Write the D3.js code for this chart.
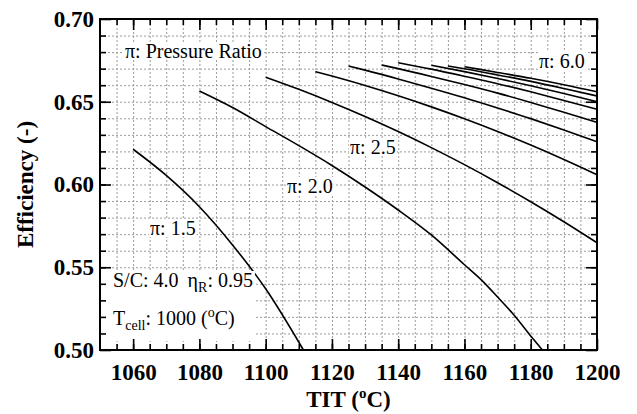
<!DOCTYPE html>
<html lang="en">
<head>
<meta charset="UTF-8">
<title>Efficiency vs TIT</title>
<script src="https://d3js.org/d3.v7.min.js"></script>
<style>
    body { margin: 0; background: white; }
    text { font-family: "Liberation Serif", "Times New Roman", Times, "DejaVu Serif", serif; fill: black; }
    .tick text { font-size: 23px; font-weight: bold; font-family: "Liberation Serif", "Times New Roman", Times, "DejaVu Serif", serif; }
    .axis-title { font-size: 23px; font-weight: bold; }
    .note { font-size: 20px; }
    .grid line { stroke: #9a9a9a; stroke-width: 1; stroke-dasharray: 2,2; }
    .grid .domain { display: none; }
    .curve { fill: none; stroke: black; stroke-width: 1.6; }
</style>
</head>
<body>
<svg id="chart"></svg>
<script>
    // pressure ratio curves, [TIT degC, efficiency]
    var pressureRatios = [1.5, 2.0, 2.5, 3.0, 3.5, 4.0, 4.5, 5.0, 5.5, 6.0];
    var effPi15 = [[1060,0.6213],[1070,0.6055],[1080,0.5866],[1090,0.5635],[1100,0.537],[1111.4,0.50]];
    var effPi20 = [[1080,0.6565],[1090,0.6465],[1100,0.635],[1110,0.6235],[1120,0.6115],[1130,0.5985],[1140,0.5846],[1150,0.5695],[1160,0.5515],[1165,0.5425],[1170,0.532],[1175,0.521],[1180,0.5085],[1183.5,0.50]];
    var effPi25 = [[1100,0.6648],[1110,0.6575],[1120,0.6496],[1130,0.6411],[1140,0.632],[1150,0.6223],[1160,0.612],[1170,0.6011],[1180,0.5896],[1190,0.5775],[1200,0.5648]];
    var effPi30 = [[1115,0.6682],[1120,0.6655],[1130,0.6598],[1140,0.6536],[1150,0.6469],[1160,0.6397],[1170,0.632],[1180,0.6238],[1190,0.6151],[1200,0.6059]];
    var effPi35 = [[1125,0.6716],[1130,0.6691],[1140,0.6638],[1150,0.6582],[1160,0.6524],[1170,0.6462],[1180,0.6398],[1190,0.633],[1200,0.6259]];
    var effPi40 = [[1135,0.6722],[1140,0.67],[1150,0.6653],[1160,0.6604],[1170,0.6552],[1180,0.6496],[1190,0.6437],[1200,0.6376]];
    var effPi45 = [[1140,0.6736],[1150,0.6697],[1160,0.6654],[1170,0.6609],[1180,0.656],[1190,0.6508],[1200,0.6454]];
    var effPi50 = [[1150,0.672],[1160,0.6682],[1170,0.6641],[1180,0.6597],[1190,0.655],[1200,0.650]];
    var effPi55 = [[1155,0.6716],[1160,0.6699],[1170,0.6662],[1180,0.6623],[1190,0.658],[1200,0.6535]];
    var effPi60 = [[1160,0.6712],[1170,0.6677],[1180,0.6642],[1190,0.6603],[1200,0.656]];
    var curves = [effPi15, effPi20, effPi25, effPi30, effPi35, effPi40, effPi45, effPi50, effPi55, effPi60];

    var xMajorTicks = [1060, 1080, 1100, 1120, 1140, 1160, 1180, 1200];
    var yMajorTicks = [0.50, 0.55, 0.60, 0.65, 0.70];
    var xMinorTicks = d3.range(1055, 1200, 5);
    var yMinorTicks = d3.range(51, 70).map(function (d) { return d / 100; });

    var width = 637, height = 414;
    var plotLeft = 100, plotRight = 597, plotTop = 19, plotBottom = 350;

    var svg = d3.select("#chart").attr("width", width).attr("height", height);

    var x = d3.scaleLinear().domain([1050, 1200]).range([plotLeft, plotRight]);
    var y = d3.scaleLinear().domain([0.50, 0.70]).range([plotBottom, plotTop]);

    // dotted grid
    svg.append("g").attr("class", "grid")
        .attr("transform", "translate(0," + plotBottom + ")")
        .call(d3.axisBottom(x).tickValues(xMinorTicks).tickSize(-(plotBottom - plotTop)).tickFormat(""));
    svg.append("g").attr("class", "grid")
        .attr("transform", "translate(" + plotLeft + ",0)")
        .call(d3.axisLeft(y).tickValues(yMinorTicks).tickSize(-(plotRight - plotLeft)).tickFormat(""));

    var line = d3.line()
        .x(function (d) { return x(d[0]); })
        .y(function (d) { return y(d[1]); })
        .curve(d3.curveMonotoneX);

    svg.append("g").selectAll("path")
        .data(curves)
        .enter().append("path")
        .attr("class", "curve")
        .attr("d", line);

    // annotation labels with white backing
    var notes = [
        { text: "\u03c0: Pressure Ratio", px: 125, py: 58 },
        { text: "\u03c0: 1.5", px: 150, py: 235 },
        { text: "\u03c0: 2.0", px: 287, py: 193 },
        { text: "\u03c0: 2.5", px: 350, py: 154 },
        { text: "\u03c0: 6.0", px: 539, py: 68 }
    ];
    var noteGroup = svg.append("g");
    notes.forEach(function (n) {
        var g = noteGroup.append("g");
        var t = g.append("text").attr("class", "note").attr("x", n.px).attr("y", n.py).text(n.text);
        var b = t.node().getBBox();
        g.insert("rect", "text").attr("x", b.x - 1).attr("y", b.y + 2)
            .attr("width", b.width + 2).attr("height", b.height - 4).attr("fill", "white");
    });

    // conditions box
    var cond = svg.append("g");
    var c1 = cond.append("text").attr("class", "note").attr("x", 113).attr("y", 287);
    c1.append("tspan").text("S/C: 4.0");
    c1.append("tspan").attr("dx", 9).text("\u03b7");
    c1.append("tspan").attr("font-size", 14).attr("dy", 5).text("R");
    c1.append("tspan").attr("dy", -5).text(": 0.95");
    var c2 = cond.append("text").attr("class", "note").attr("x", 113).attr("y", 325);
    c2.append("tspan").text("T");
    c2.append("tspan").attr("font-size", 14).attr("dy", 5).text("cell");
    c2.append("tspan").attr("dy", -5).text(": 1000 (");
    c2.append("tspan").attr("font-size", 14).attr("dy", -8).text("o");
    c2.append("tspan").attr("dy", 8).text("C)");
    var b1 = c1.node().getBBox();
    cond.insert("rect", "text").attr("x", plotLeft + 1).attr("y", b1.y + 2)
        .attr("width", b1.x + b1.width + 2 - plotLeft - 1).attr("height", plotBottom - 9 - b1.y - 2)
        .attr("fill", "white");

    // axes with inward ticks
    function strip(g) { g.select(".domain").remove(); }
    svg.append("g").attr("transform", "translate(0," + plotBottom + ")")
        .call(d3.axisBottom(x).tickValues(xMinorTicks).tickSize(-6).tickFormat("")).call(strip);
    svg.append("g").attr("transform", "translate(0," + plotBottom + ")")
        .call(d3.axisBottom(x).tickValues(xMajorTicks).tickSize(-11).tickPadding(14).tickFormat(d3.format("d"))).call(strip);
    svg.append("g").attr("transform", "translate(0," + plotTop + ")")
        .call(d3.axisTop(x).tickValues(xMinorTicks).tickSize(-6).tickFormat("")).call(strip);
    svg.append("g").attr("transform", "translate(0," + plotTop + ")")
        .call(d3.axisTop(x).tickValues(xMajorTicks).tickSize(-11).tickFormat("")).call(strip);
    svg.append("g").attr("transform", "translate(" + plotLeft + ",0)")
        .call(d3.axisLeft(y).tickValues(yMinorTicks).tickSize(-6).tickFormat("")).call(strip);
    svg.append("g").attr("transform", "translate(" + plotLeft + ",0)")
        .call(d3.axisLeft(y).tickValues(yMajorTicks).tickSize(-11).tickPadding(6).tickFormat(d3.format(".2f"))).call(strip);
    svg.append("g").attr("transform", "translate(" + plotRight + ",0)")
        .call(d3.axisRight(y).tickValues(yMinorTicks).tickSize(-6).tickFormat("")).call(strip);
    svg.append("g").attr("transform", "translate(" + plotRight + ",0)")
        .call(d3.axisRight(y).tickValues(yMajorTicks).tickSize(-11).tickFormat("")).call(strip);
    svg.selectAll(".tick line").filter(function () { return !this.closest(".grid"); })
        .attr("stroke", "black").attr("stroke-width", 1.6);

    svg.append("rect").attr("x", plotLeft).attr("y", plotTop)
        .attr("width", plotRight - plotLeft).attr("height", plotBottom - plotTop)
        .attr("fill", "none").attr("stroke", "black").attr("stroke-width", 2);

    // axis titles
    var xt = svg.append("text").attr("class", "axis-title")
        .attr("x", (plotLeft + plotRight) / 2).attr("y", 407).attr("text-anchor", "middle");
    xt.append("tspan").text("TIT (");
    xt.append("tspan").attr("font-size", 15).attr("dy", -9).text("o");
    xt.append("tspan").attr("dy", 9).text("C)");

    svg.append("text").attr("class", "axis-title")
        .attr("transform", "translate(33," + (plotTop + plotBottom) / 2 + ") rotate(-90)")
        .attr("text-anchor", "middle")
        .text("Efficiency (-)");
</script>
</body>
</html>
